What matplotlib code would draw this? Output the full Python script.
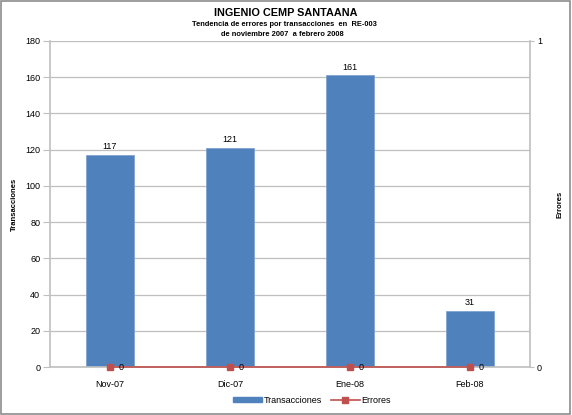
import matplotlib.pyplot as plt
import numpy as np

meses = ["Nov-07", "Dic-07", "Ene-08", "Feb-08"]
transacciones = [117, 121, 161, 31]
errores = [0, 0, 0, 0]

azul = "#4F81BD"
rojo = "#C0504D"
gris = "#BFBFBF"

plt.rcParams['font.family'] = ['Liberation Sans', 'DejaVu Sans']

fig = plt.figure(figsize=(5.72, 4.15), dpi=100)
ax = fig.add_axes([50 / 572, 1 - 367 / 415, 480 / 572, 326 / 415])
x = np.arange(len(meses))

bars = ax.bar(x, transacciones, width=0.4, color=azul, edgecolor="#7FA3D1", linewidth=0.6, zorder=2)
for b, v in zip(bars, transacciones):
    ax.text(b.get_x() + b.get_width() / 2, v + 2, str(v), ha="center", va="bottom", fontsize=6.5)

ax.set_xlim(-0.5, 3.5)
ax.set_ylim(0, 180)
ax.set_yticks(range(0, 181, 20))
ax.set_xticks(x)
ax.set_xticklabels(meses)
ax.tick_params(axis="y", labelsize=6.5, length=5, color=gris, pad=2)
ax.tick_params(axis="x", labelsize=6.5, length=0, pad=9)
ax.grid(axis="y", color=gris, linewidth=0.9, zorder=0)
ax.set_axisbelow(True)
for s in ["left", "right", "bottom"]:
    ax.spines[s].set_color(gris)
    ax.spines[s].set_linewidth(1.2)
ax.spines["top"].set_visible(False)
ax.set_ylabel("Transacciones", fontsize=5.5, fontweight="bold")
ax.yaxis.set_label_coords(-0.067, 0.5)

ax2 = ax.twinx()
ax2.plot(x, errores, color=rojo, marker="s", markersize=4.5, linewidth=1.2, clip_on=False, zorder=3)
for xi, v in zip(x, errores):
    ax2.text(xi + 0.07, v, str(v), ha="left", va="center", fontsize=6.5)
ax2.set_ylim(0, 1)
ax2.set_yticks([0, 1])
ax2.tick_params(axis="y", labelsize=6.5, length=3, color=gris, pad=2)
for s in ["left", "right", "bottom", "top"]:
    ax2.spines[s].set_visible(False)
ax2.set_ylabel("Errores", fontsize=5.5, fontweight="bold")
ax2.yaxis.set_label_coords(1.056, 0.5)

fig.text(286 / 572, 1 - 13 / 415, "INGENIO CEMP SANTAANA", ha="center", va="center",
         fontsize=7.8, fontweight="bold")
fig.text(284 / 572, 1 - 25 / 415, "Tendencia de errores por transacciones  en  RE-003",
         ha="center", va="center", fontsize=5.4, fontweight="bold")
fig.text(282 / 572, 1 - 35 / 415, "de noviembre 2007  a febrero 2008",
         ha="center", va="center", fontsize=5.4, fontweight="bold")

h1 = plt.Rectangle((0, 0), 1, 1, color=azul)
h2, = ax2.plot([], [], color=rojo, marker="s", markersize=4.5, linewidth=1.2)
fig.legend([h1, h2], ["Transacciones", "Errores"], loc="center", bbox_to_anchor=(312 / 572, 1 - 400 / 415),
           ncol=2, frameon=False, fontsize=6.5, handlelength=3.2, handleheight=0.4, columnspacing=1.0,
           handletextpad=0.2)

fig.patches.append(plt.Rectangle((0.002, 0.002), 0.995, 0.995, transform=fig.transFigure,
                                 fill=False, edgecolor="#8C8C8C", linewidth=1.2))

fig.savefig("out.png", dpi=100)
